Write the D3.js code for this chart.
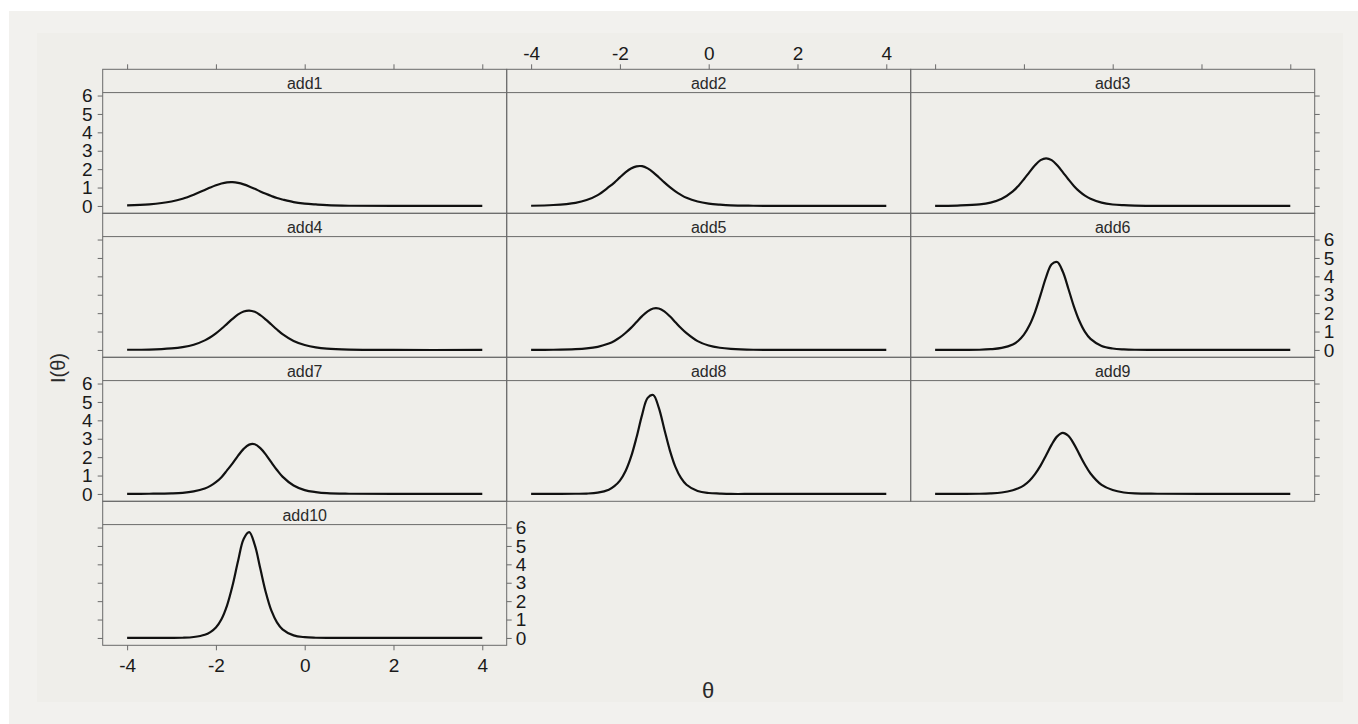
<!DOCTYPE html>
<html>
<head>
<meta charset="utf-8">
<script src="https://cdn.jsdelivr.net/npm/d3@7"></script>
<style>
  body { margin: 0; background: #ffffff; }
  text { font-family: "Liberation Sans", Arial, sans-serif; }
</style>
</head>
<body>
<svg></svg>
<script>
// theta grid shared by all curves
const thetaGrid = [-4, -3.5, -3, -2.75, -2.5, -2.25, -2.125, -2, -1.875, -1.75, -1.625, -1.5, -1.375,
    -1.25, -1.125, -1, -0.875, -0.75, -0.625, -0.5, -0.25, 0, 0.25, 0.5, 1, 2, 4];

// item information
const add1  = [0.03, 0.09, 0.24, 0.39, 0.61, 0.87, 1.00, 1.12, 1.22, 1.28, 1.29, 1.25, 1.17,
    1.06, 0.93, 0.79, 0.66, 0.54, 0.43, 0.35, 0.21, 0.13, 0.08, 0.04, 0.01, 0, 0];
const add2  = [0.01, 0.05, 0.17, 0.32, 0.59, 1.03, 1.27, 1.55, 1.82, 2.03, 2.15, 2.16, 2.04,
    1.83, 1.56, 1.28, 1.02, 0.79, 0.60, 0.44, 0.24, 0.13, 0.07, 0.03, 0.01, 0, 0];
const add3  = [0, 0.02, 0.08, 0.18, 0.39, 0.79, 1.09, 1.45, 1.84, 2.21, 2.49, 2.59, 2.49,
    2.21, 1.84, 1.45, 1.09, 0.79, 0.56, 0.39, 0.18, 0.08, 0.04, 0.02, 0, 0, 0];
const add4  = [0.01, 0.02, 0.08, 0.15, 0.28, 0.52, 0.69, 0.90, 1.15, 1.42, 1.69, 1.93, 2.09,
    2.14, 2.07, 1.89, 1.65, 1.38, 1.11, 0.86, 0.49, 0.27, 0.14, 0.07, 0.02, 0, 0];
const add5  = [0, 0.01, 0.04, 0.08, 0.17, 0.35, 0.49, 0.68, 0.92, 1.20, 1.52, 1.84, 2.10,
    2.25, 2.25, 2.10, 1.83, 1.51, 1.19, 0.91, 0.48, 0.24, 0.12, 0.06, 0.01, 0, 0];
const add6  = [0, 0, 0.01, 0.04, 0.11, 0.30, 0.50, 0.83, 1.34, 2.06, 2.99, 3.96, 4.66,
    4.78, 4.26, 3.34, 2.37, 1.57, 0.98, 0.60, 0.22, 0.08, 0.03, 0.01, 0, 0, 0];
const add7  = [0, 0.01, 0.03, 0.06, 0.14, 0.30, 0.44, 0.64, 0.91, 1.28, 1.66, 2.08, 2.45,
    2.68, 2.70, 2.49, 2.14, 1.71, 1.30, 0.94, 0.46, 0.21, 0.10, 0.04, 0.01, 0, 0];
const add8  = [0, 0, 0.01, 0.02, 0.07, 0.23, 0.42, 0.72, 1.23, 2.01, 3.08, 4.30, 5.22,
    5.38, 4.69, 3.52, 2.37, 1.47, 0.87, 0.50, 0.16, 0.05, 0.02, 0, 0, 0, 0];
const add9  = [0, 0, 0.01, 0.03, 0.08, 0.20, 0.31, 0.47, 0.72, 1.08, 1.54, 2.10, 2.68,
    3.13, 3.32, 3.16, 2.72, 2.15, 1.59, 1.11, 0.49, 0.21, 0.08, 0.03, 0.01, 0, 0];
const add10 = [0, 0, 0, 0.01, 0.05, 0.17, 0.32, 0.57, 1.02, 1.76, 2.85, 4.20, 5.38,
    5.75, 5.06, 3.77, 2.47, 1.48, 0.85, 0.47, 0.14, 0.04, 0.01, 0, 0, 0, 0];

const itemNames = ['add1', 'add2', 'add3', 'add4', 'add5', 'add6', 'add7', 'add8', 'add9', 'add10'];
const itemValues = [add1, add2, add3, add4, add5, add6, add7, add8, add9, add10];

const xTicks = [-4, -2, 0, 2, 4];
const yTicks = [0, 1, 2, 3, 4, 5, 6];

const width = 1358, height = 724;
const panelLeft = 102.7, panelTop = 69.3;
const panelW = 404, rowH = 144, stripH = 23.3;
const nCol = 3, nRow = 4;
const frameColor = '#6a6a6a';
const plain = d => String(d);   // hyphen minus, like the original

const svg = d3.select('svg')
    .attr('width', width)
    .attr('height', height);

svg.append('rect')
    .attr('x', 9).attr('y', 11)
    .attr('width', width - 9).attr('height', height - 11)
    .attr('fill', '#f2f1ee');
svg.append('rect')
    .attr('x', 37).attr('y', 33)
    .attr('width', 1306).attr('height', 669)
    .attr('fill', '#efeeea');

const x = d3.scaleLinear().domain([-4.55, 4.55]).range([0, panelW]);
const y = d3.scaleLinear().domain([-0.4, 6.16]).range([rowH - stripH, 0]);

const line = d3.line()
    .x(d => x(d[0]))
    .y(d => y(d[1]))
    .curve(d3.curveCatmullRom.alpha(0.5));

function styleAxis(g, size) {
    g.select('.domain').remove();
    g.selectAll('.tick line').attr('stroke', frameColor);
    g.selectAll('.tick text')
        .attr('fill', '#1a1a1a')
        .attr('font-size', size)
        .attr('font-family', '"Liberation Sans", Arial, sans-serif');
}

itemNames.forEach((name, i) => {
    const col = i % nCol, row = Math.floor(i / nCol);
    const lastInRow = (col === nCol - 1) || (i === itemNames.length - 1);
    const g = svg.append('g')
        .attr('transform', `translate(${panelLeft + col * panelW}, ${panelTop + row * rowH})`);

    // strip
    g.append('line')
        .attr('x1', 0).attr('x2', panelW)
        .attr('y1', stripH).attr('y2', stripH)
        .attr('stroke', frameColor);
    g.append('text')
        .attr('x', panelW / 2).attr('y', 20)
        .attr('text-anchor', 'middle')
        .attr('font-size', 16)
        .attr('fill', '#2a2a2a')
        .text(name);

    const plot = g.append('g').attr('transform', `translate(0, ${stripH})`);

    plot.append('path')
        .datum(thetaGrid.map((t, j) => [t, itemValues[i][j]]))
        .attr('d', line)
        .attr('fill', 'none')
        .attr('stroke', '#111')
        .attr('stroke-width', 2.2);

    // y axes, labels alternate left / right by row
    if (col === 0) {
        const ax = plot.append('g')
            .call(d3.axisLeft(y).tickValues(yTicks).tickSize(5).tickPadding(5)
                .tickFormat(row % 2 === 0 ? plain : ''));
        styleAxis(ax, 19);
    }
    if (lastInRow) {
        const ax = plot.append('g')
            .attr('transform', `translate(${panelW}, 0)`)
            .call(d3.axisRight(y).tickValues(yTicks).tickSize(5).tickPadding(4)
                .tickFormat(row % 2 === 1 ? plain : ''));
        styleAxis(ax, 19);
    }

    // x axes: top on first row, bottom under the last panel of column 1
    if (row === 0) {
        const ax = g.append('g')
            .call(d3.axisTop(x).tickValues(xTicks).tickSize(5).tickPadding(4)
                .tickFormat(col === 1 ? plain : ''));
        styleAxis(ax, 19);
    }
    if (row === nRow - 1) {
        const ax = g.append('g')
            .attr('transform', `translate(0, ${rowH})`)
            .call(d3.axisBottom(x).tickValues(xTicks).tickSize(5).tickPadding(8)
                .tickFormat(plain));
        styleAxis(ax, 19);
    }

    g.append('rect')
        .attr('width', panelW).attr('height', rowH)
        .attr('fill', 'none')
        .attr('stroke', frameColor);
});

svg.append('text')
    .attr('transform', 'translate(65, 368) rotate(-90)')
    .attr('text-anchor', 'middle')
    .attr('font-size', 20)
    .attr('fill', '#2a2a2a')
    .text('I(θ)');

svg.append('text')
    .attr('x', 708).attr('y', 698)
    .attr('text-anchor', 'middle')
    .attr('font-size', 22)
    .attr('font-family', '"Liberation Serif", "DejaVu Serif", serif')
    .attr('fill', '#2a2a2a')
    .text('θ');
</script>
</body>
</html>
